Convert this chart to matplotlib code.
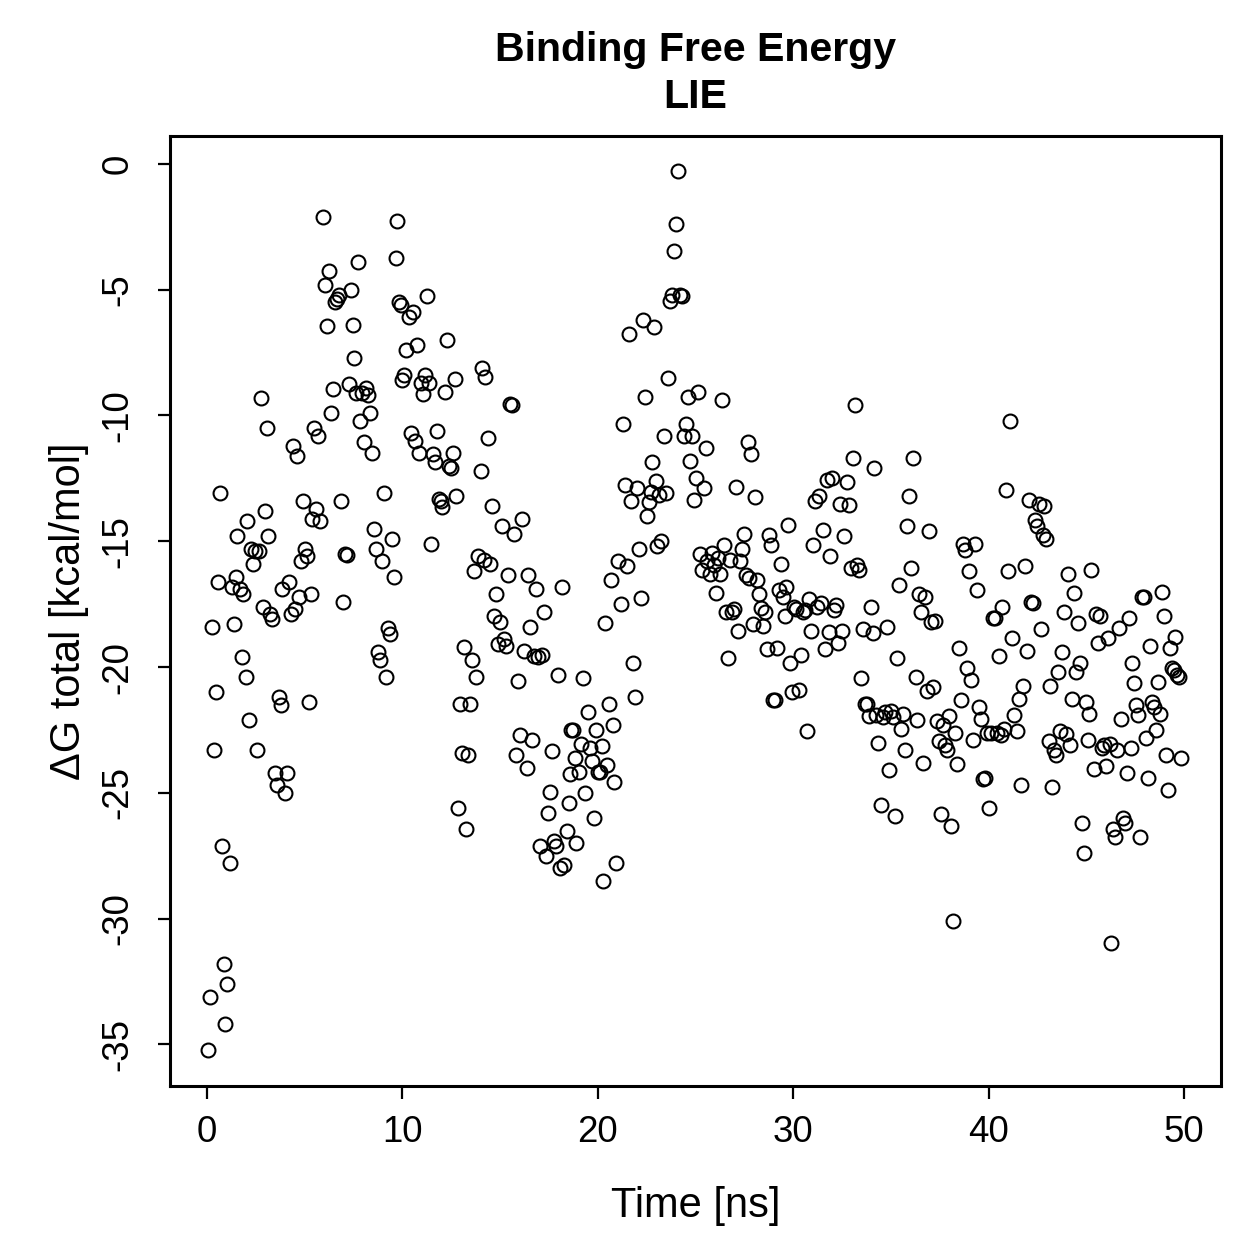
import matplotlib
matplotlib.use("Agg")
import matplotlib.pyplot as plt

# LIE binding free energy trace
time_ns = [
    0.05, 0.15, 0.25, 0.35, 0.45, 0.55, 0.65, 0.75, 0.85, 0.95,
    1.05, 1.2, 1.3, 1.4, 1.5, 1.55, 1.7, 1.8, 1.85, 2.0,
    2.05, 2.15, 2.25, 2.35, 2.45, 2.55, 2.65, 2.75, 2.85, 2.95,
    3.05, 3.15, 3.25, 3.35, 3.5, 3.6, 3.7, 3.8, 3.85, 4.0,
    4.1, 4.2, 4.3, 4.4, 4.5, 4.6, 4.7, 4.8, 4.9, 5.0,
    5.1, 5.2, 5.3, 5.4, 5.5, 5.6, 5.7, 5.8, 5.95, 6.05,
    6.15, 6.25, 6.35, 6.45, 6.55, 6.65, 6.75, 6.85, 6.95, 7.05,
    7.15, 7.25, 7.35, 7.45, 7.55, 7.65, 7.75, 7.85, 7.95, 8.05,
    8.15, 8.25, 8.35, 8.45, 8.55, 8.65, 8.75, 8.85, 8.95, 9.05,
    9.15, 9.25, 9.35, 9.45, 9.55, 9.65, 9.75, 9.85, 9.95, 10.0,
    10.1, 10.2, 10.35, 10.45, 10.55, 10.65, 10.75, 10.85, 10.95, 11.05,
    11.15, 11.25, 11.35, 11.45, 11.55, 11.65, 11.75, 11.85, 11.95, 12.05,
    12.2, 12.3, 12.4, 12.5, 12.6, 12.7, 12.75, 12.85, 12.95, 13.05,
    13.15, 13.25, 13.35, 13.45, 13.55, 13.65, 13.75, 13.85, 14.0, 14.05,
    14.15, 14.25, 14.4, 14.5, 14.6, 14.7, 14.8, 14.9, 15.0, 15.1,
    15.2, 15.3, 15.4, 15.5, 15.6, 15.7, 15.8, 15.9, 16.0, 16.1,
    16.2, 16.35, 16.45, 16.55, 16.65, 16.75, 16.85, 16.95, 17.05, 17.15,
    17.25, 17.35, 17.45, 17.55, 17.65, 17.75, 17.85, 17.95, 18.05, 18.15,
    18.25, 18.4, 18.5, 18.55, 18.65, 18.75, 18.85, 18.9, 19.05, 19.15,
    19.25, 19.35, 19.5, 19.6, 19.7, 19.8, 19.9, 20.0, 20.1, 20.2,
    20.25, 20.35, 20.45, 20.55, 20.65, 20.75, 20.85, 20.95, 21.05, 21.2,
    21.3, 21.4, 21.5, 21.6, 21.7, 21.8, 21.9, 22.0, 22.1, 22.2,
    22.3, 22.4, 22.5, 22.6, 22.7, 22.75, 22.85, 22.95, 23.05, 23.15,
    23.25, 23.4, 23.5, 23.6, 23.7, 23.8, 23.9, 24.0, 24.1, 24.2,
    24.3, 24.4, 24.5, 24.6, 24.7, 24.8, 24.9, 25.0, 25.1, 25.25,
    25.35, 25.45, 25.55, 25.6, 25.75, 25.85, 25.95, 26.05, 26.15, 26.25,
    26.35, 26.45, 26.55, 26.65, 26.75, 26.85, 26.95, 27.05, 27.15, 27.25,
    27.35, 27.5, 27.6, 27.7, 27.75, 27.85, 27.95, 28.05, 28.15, 28.25,
    28.35, 28.45, 28.55, 28.65, 28.75, 28.85, 28.95, 29.05, 29.15, 29.25,
    29.35, 29.45, 29.55, 29.65, 29.75, 29.85, 29.95, 30.05, 30.15, 30.3,
    30.4, 30.5, 30.6, 30.7, 30.8, 30.9, 31.0, 31.1, 31.2, 31.3,
    31.4, 31.5, 31.6, 31.7, 31.8, 31.9, 32.0, 32.1, 32.2, 32.3,
    32.4, 32.5, 32.6, 32.75, 32.85, 32.95, 33.05, 33.15, 33.25, 33.35,
    33.45, 33.55, 33.65, 33.75, 33.85, 33.95, 34.05, 34.15, 34.25, 34.35,
    34.5, 34.6, 34.7, 34.8, 34.9, 35.0, 35.1, 35.2, 35.3, 35.4,
    35.5, 35.6, 35.7, 35.8, 35.9, 36.0, 36.1, 36.25, 36.35, 36.45,
    36.55, 36.65, 36.75, 36.85, 36.95, 37.05, 37.15, 37.25, 37.35, 37.45,
    37.55, 37.65, 37.75, 37.85, 37.95, 38.05, 38.15, 38.25, 38.35, 38.45,
    38.6, 38.7, 38.8, 38.9, 39.0, 39.1, 39.2, 39.3, 39.4, 39.5,
    39.6, 39.7, 39.8, 39.9, 40.0, 40.1, 40.2, 40.3, 40.4, 40.5,
    40.6, 40.7, 40.8, 40.9, 41.0, 41.1, 41.2, 41.3, 41.45, 41.55,
    41.65, 41.75, 41.85, 41.95, 42.05, 42.15, 42.25, 42.35, 42.45, 42.55,
    42.65, 42.75, 42.8, 42.95, 43.1, 43.15, 43.25, 43.35, 43.45, 43.55,
    43.65, 43.75, 43.85, 43.95, 44.05, 44.15, 44.25, 44.35, 44.45, 44.55,
    44.65, 44.75, 44.85, 44.95, 45.05, 45.15, 45.25, 45.4, 45.5, 45.6,
    45.7, 45.8, 45.9, 46.0, 46.1, 46.2, 46.25, 46.35, 46.45, 46.55,
    46.65, 46.75, 46.85, 46.95, 47.05, 47.15, 47.25, 47.35, 47.45, 47.55,
    47.65, 47.75, 47.85, 47.95, 48.05, 48.15, 48.25, 48.35, 48.45, 48.55,
    48.65, 48.75, 48.85, 48.95, 49.05, 49.15, 49.25, 49.35, 49.45, 49.55,
    49.65, 49.75, 49.85,
]

dg_total = [
    -35.2, -33.1, -18.4, -23.3, -21.0, -16.6, -13.1, -27.1, -31.8, -34.2,
    -32.6, -27.8, -16.8, -18.3, -16.4, -14.8, -16.9, -19.6, -17.1, -20.4,
    -14.2, -22.1, -15.3, -15.9, -15.4, -23.3, -15.4, -9.3, -17.6, -13.8,
    -10.5, -14.8, -17.9, -18.1, -24.2, -24.7, -21.2, -21.5, -16.9, -25.0,
    -24.2, -16.6, -17.9, -11.2, -17.7, -11.6, -17.2, -15.8, -13.4, -15.3,
    -15.6, -21.4, -17.1, -14.1, -10.5, -13.7, -10.8, -14.2, -2.1, -4.8,
    -6.45, -4.25, -9.9, -8.95, -5.5, -5.35, -5.2, -13.4, -17.4, -15.5,
    -15.55, -8.75, -5.0, -6.4, -7.7, -9.1, -3.9, -10.2, -9.1, -11.05,
    -8.9, -9.2, -9.9, -11.5, -14.5, -15.3, -19.4, -19.7, -15.8, -13.1,
    -20.4, -18.45, -18.7, -14.9, -16.4, -3.75, -2.25, -5.5, -5.6, -8.6,
    -8.4, -7.4, -6.1, -10.7, -5.9, -11.0, -7.2, -11.5, -8.7, -9.15,
    -8.4, -5.25, -8.7, -15.1, -11.55, -11.85, -10.6, -13.3, -13.4, -13.65,
    -9.05, -7.0, -12.0, -12.1, -11.5, -8.55, -13.2, -25.6, -21.45, -23.4,
    -19.2, -26.45, -23.5, -21.45, -19.7, -16.2, -20.4, -15.6, -12.2, -8.1,
    -15.75, -8.45, -10.9, -15.9, -13.6, -17.95, -17.1, -19.1, -18.2, -14.4,
    -18.9, -19.15, -16.35, -9.55, -9.6, -14.7, -23.5, -20.55, -22.7, -14.1,
    -19.35, -24.0, -16.35, -18.4, -22.9, -19.55, -16.9, -19.6, -27.1, -19.5,
    -17.8, -27.5, -25.8, -24.95, -23.35, -26.9, -27.1, -20.3, -28.0, -16.8,
    -27.85, -26.5, -25.4, -24.25, -22.5, -22.5, -23.6, -27.0, -24.15, -23.05,
    -20.45, -25.0, -21.8, -23.2, -23.75, -26.0, -22.5, -24.15, -24.15, -23.15,
    -28.5, -18.25, -23.9, -21.45, -16.55, -22.3, -24.55, -27.8, -15.8, -17.5,
    -10.35, -12.75, -16.0, -6.75, -13.4, -19.85, -21.2, -12.9, -15.3, -17.25,
    -6.2, -9.25, -14.0, -13.45, -13.05, -11.85, -6.5, -12.6, -15.2, -13.15,
    -15.0, -10.8, -13.1, -8.5, -5.45, -5.2, -3.45, -2.4, -0.3, -5.2,
    -5.25, -10.8, -10.35, -9.25, -11.8, -10.8, -13.35, -12.5, -9.05, -15.5,
    -16.15, -12.9, -11.3, -15.8, -16.3, -15.45, -15.95, -17.05, -15.65, -16.3,
    -9.4, -15.15, -17.8, -19.65, -15.75, -17.8, -17.7, -12.85, -18.55, -15.8,
    -15.3, -14.7, -16.35, -11.05, -16.45, -11.55, -18.3, -13.25, -16.55, -17.1,
    -17.65, -18.35, -17.8, -19.3, -14.75, -15.15, -21.3, -21.3, -19.25, -16.95,
    -15.9, -17.2, -17.95, -16.8, -14.35, -19.85, -21.0, -17.6, -17.7, -20.9,
    -19.5, -17.8, -17.75, -22.55, -17.3, -18.55, -15.15, -13.4, -17.6, -13.2,
    -17.45, -14.55, -19.3, -12.55, -18.6, -15.6, -12.5, -17.75, -17.55, -19.05,
    -13.5, -18.55, -14.8, -12.65, -13.55, -16.05, -11.7, -9.6, -15.95, -16.15,
    -20.45, -18.5, -21.45, -21.45, -21.95, -17.6, -18.65, -12.1, -21.9, -23.0,
    -25.5, -22.0, -21.8, -18.4, -24.1, -21.75, -22.0, -25.9, -19.65, -16.75,
    -22.45, -21.85, -23.3, -14.4, -13.2, -16.05, -11.7, -20.4, -22.1, -17.1,
    -17.8, -23.8, -17.2, -20.95, -14.6, -18.2, -20.8, -18.15, -22.15, -22.95,
    -25.85, -22.3, -23.1, -23.3, -21.95, -26.3, -30.1, -22.6, -23.85, -19.25,
    -21.3, -15.1, -15.35, -20.05, -16.2, -20.5, -22.9, -15.1, -16.95, -21.6,
    -22.05, -24.45, -24.4, -22.6, -25.6, -22.6, -18.05, -18.05, -22.6, -19.55,
    -22.7, -17.6, -22.45, -12.95, -16.2, -10.2, -18.85, -21.9, -22.55, -21.25,
    -24.7, -20.75, -16.0, -19.35, -13.35, -17.4, -17.45, -14.15, -14.4, -13.5,
    -18.5, -14.75, -13.6, -14.9, -22.95, -20.75, -24.75, -23.3, -23.5, -20.2,
    -22.55, -19.4, -17.8, -22.65, -16.3, -23.1, -21.25, -17.05, -20.2, -18.25,
    -19.85, -26.2, -27.4, -21.4, -22.9, -21.85, -16.15, -24.05, -17.9, -19.05,
    -17.95, -23.2, -23.1, -23.95, -18.85, -23.05, -30.95, -26.45, -26.75, -23.3,
    -18.45, -22.05, -26.0, -26.2, -24.2, -18.05, -23.2, -19.85, -20.65, -21.5,
    -21.9, -26.75, -17.2, -17.2, -22.8, -24.4, -19.15, -21.4, -21.6, -22.5,
    -20.6, -21.85, -17.0, -17.95, -23.5, -24.9, -19.25, -20.05, -20.1, -18.8,
    -20.3, -20.4, -23.6,
]

x_ticks = [0, 10, 20, 30, 40, 50]
y_ticks = [0, -5, -10, -15, -20, -25, -30, -35]

plt.rcParams['font.family'] = ['Liberation Sans', 'DejaVu Sans']

fig = plt.figure(figsize=(6.295, 6.295), dpi=200)
ax = fig.add_axes([0.135, 0.1374, 0.835, 0.7546])

ax.plot(time_ns, dg_total, linestyle='none', marker='o', markersize=5.0,
        markerfacecolor='none', markeredgecolor='black', markeredgewidth=0.75)

ax.set_xlim(-1.89, 51.89)
ax.set_ylim(-36.65, 1.11)
ax.set_xticks(x_ticks)
ax.set_yticks(y_ticks)
ax.set_yticklabels([str(v) for v in y_ticks], rotation=90, va='center')
ax.tick_params(direction='out', length=4.5, width=0.8, labelsize=13.2, pad=6)
ax.tick_params(axis='y', pad=8)

for sp in ax.spines.values():
    sp.set_linewidth(1.1)

ax.set_xlabel("Time [ns]", fontsize=15, labelpad=13)
ax.set_ylabel("ΔG total [kcal/mol]", fontsize=15, labelpad=4)
ax.set_title("Binding Free Energy\nLIE", fontsize=14.8, fontweight='bold',
             pad=10, linespacing=1.3)

fig.savefig("out.png", dpi=200)
